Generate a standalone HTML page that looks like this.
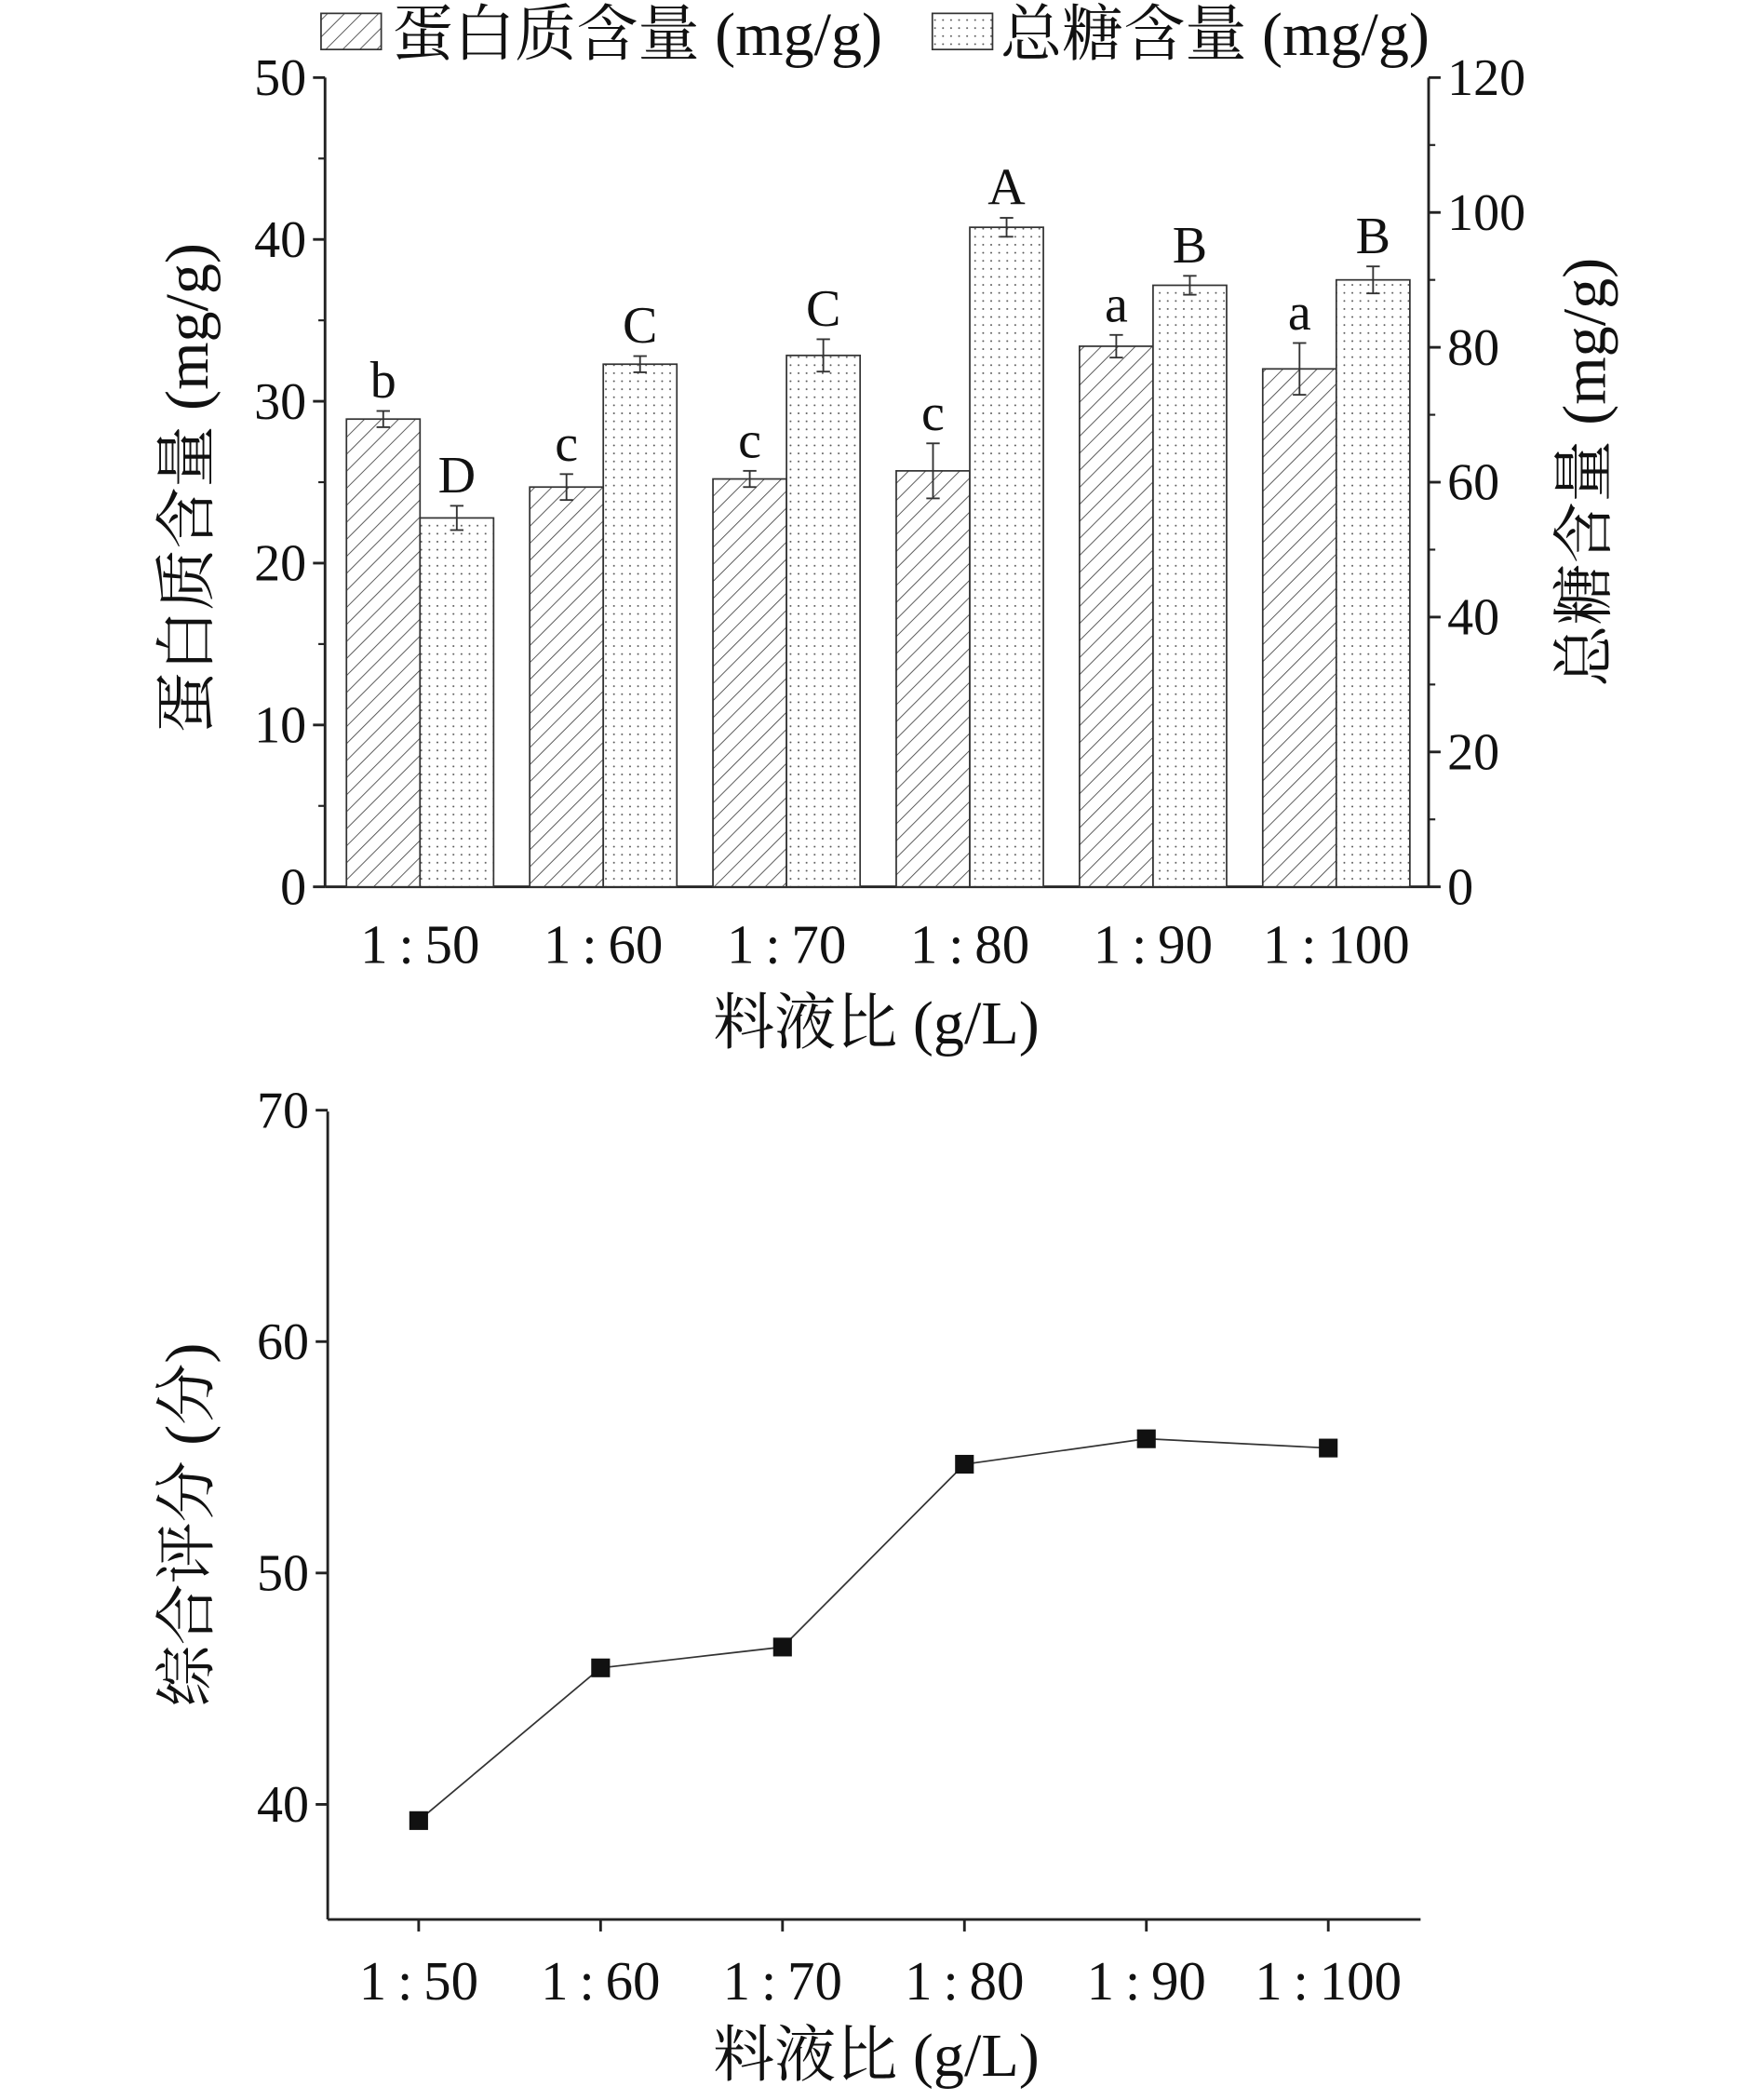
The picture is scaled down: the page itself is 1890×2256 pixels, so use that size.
<!DOCTYPE html>
<html><head><meta charset="utf-8"><style>
html,body{margin:0;padding:0;background:#fff;}
svg{display:block;}
text{font-family:"Liberation Serif","Noto Serif CJK SC","Noto Sans CJK SC",serif;fill:#111;}
</style></head><body>
<svg id="chart" width="1890" height="2256" viewBox="0 0 1315 1570" preserveAspectRatio="none" xmlns="http://www.w3.org/2000/svg">
<defs>
<pattern id="hatch" patternUnits="userSpaceOnUse" width="9" height="9" patternTransform="rotate(45)">
<rect width="9" height="9" fill="#fff"/><line x1="0" y1="0" x2="0" y2="9" stroke="#444" stroke-width="1.2"/></pattern>
<pattern id="dots" patternUnits="userSpaceOnUse" width="6" height="6">
<rect width="6" height="6" fill="#fff"/><circle cx="3" cy="3" r="0.7" fill="#555"/></pattern>
</defs>
<g id="topchart"></g>
<g id="bottomchart"></g>
</svg>
<script>
const categories=["1:50","1:60","1:70","1:80","1:90","1:100"];
const protein=[28.9,24.7,25.2,25.7,33.4,32.0];
const proteinErr=[0.5,0.8,0.5,1.7,0.7,1.6];
const proteinLetters=["b","c","c","c","a","a"];
const sugar=[54.7,77.5,78.8,97.8,89.2,90.0];
const sugarErr=[1.8,1.2,2.4,1.4,1.4,2.0];
const sugarLetters=["D","C","C","A","B","B"];
const leftTicks=[0,10,20,30,40,50];
const rightTicks=[0,20,40,60,80,100,120];
const score=[39.3,45.9,46.8,54.7,55.8,55.4];
const scoreTicks=[40,50,60,70];

const NS="http://www.w3.org/2000/svg";
function mk(p,tag,a,txt){const e=document.createElementNS(NS,tag);for(const k in a)e.setAttribute(k,a[k]);if(txt!==undefined)e.textContent=txt;p.appendChild(e);return e;}
const topG=document.getElementById('topchart'),botG=document.getElementById('bottomchart');
const X0=243,X1=1068,Y0=663,Y1=58;
const yL=v=>Y0-(v/50)*(Y0-Y1);
const yR=v=>Y0-(v/120)*(Y0-Y1);
const gx=i=>259+i*137;
const BW=55;
let e;
e=mk(topG,'line',{x1:X0,y1:Y0,x2:X1,y2:Y0,stroke:'#222','stroke-width':2});

e=mk(topG,'line',{x1:X0,y1:Y1,x2:X0,y2:Y0,stroke:'#222','stroke-width':2});

e=mk(topG,'line',{x1:X1,y1:Y1,x2:X1,y2:Y0,stroke:'#222','stroke-width':2});

leftTicks.forEach(v=>{mk(topG,'line',{x1:X0-9,y1:yL(v),x2:X0,y2:yL(v),stroke:'#222','stroke-width':2});
 if(v<50)mk(topG,'line',{x1:X0-5,y1:yL(v+5),x2:X0,y2:yL(v+5),stroke:'#222','stroke-width':1.5});
 e=mk(topG,'text',{x:X0-14,y:yL(v)+13,'font-size':39,'text-anchor':'end'},String(v));
 });
rightTicks.forEach(v=>{mk(topG,'line',{x1:X1,y1:yR(v),x2:X1+9,y2:yR(v),stroke:'#222','stroke-width':2});
 if(v<120)mk(topG,'line',{x1:X1,y1:yR(v+10),x2:X1+5,y2:yR(v+10),stroke:'#222','stroke-width':1.5});
 e=mk(topG,'text',{x:X1+14,y:yR(v)+13,'font-size':39},String(v));
 });
categories.forEach((c,i)=>{
 const x=gx(i);
 e=mk(topG,'rect',{x:x,y:yL(protein[i]),width:BW,height:Y0-yL(protein[i]),fill:'url(#hatch)',stroke:'#333','stroke-width':1.2});
 
 e=mk(topG,'rect',{x:x+BW,y:yR(sugar[i]),width:BW,height:Y0-yR(sugar[i]),fill:'url(#dots)',stroke:'#333','stroke-width':1.2});
 
 const err=(cx,yt,yb)=>{mk(topG,'line',{x1:cx,y1:yt,x2:cx,y2:yb,stroke:'#333','stroke-width':1.3});
  mk(topG,'line',{x1:cx-5,y1:yt,x2:cx+5,y2:yt,stroke:'#333','stroke-width':1.3});
  mk(topG,'line',{x1:cx-5,y1:yb,x2:cx+5,y2:yb,stroke:'#333','stroke-width':1.3});};
 err(x+BW/2,yL(protein[i]+proteinErr[i]),yL(protein[i]-proteinErr[i]));
 err(x+BW*1.5,yR(sugar[i]+sugarErr[i]),yR(sugar[i]-sugarErr[i]));
 e=mk(topG,'text',{x:x+BW/2,y:yL(protein[i]+proteinErr[i])-10,'font-size':39,'text-anchor':'middle'},proteinLetters[i]);
 
 e=mk(topG,'text',{x:x+BW*1.5,y:yR(sugar[i]+sugarErr[i])-10,'font-size':39,'text-anchor':'middle'},sugarLetters[i]);
 
 e=mk(topG,'text',{x:x+BW,y:720,'font-size':41,'text-anchor':'middle'},c.replace(':','\u2009:\u2009'));
 
});
e=mk(topG,'text',{x:655,y:780,'font-size':46,'text-anchor':'middle'},'料液比 (g/L)');

e=mk(topG,'text',{x:0,y:0,'font-size':46,'text-anchor':'middle',transform:'translate(155,365) rotate(-90)'},'蛋白质含量 (mg/g)');

e=mk(topG,'text',{x:0,y:0,'font-size':46,'text-anchor':'middle',transform:'translate(1200,353) rotate(-90)'},'总糖含量 (mg/g)');

e=mk(topG,'rect',{x:240,y:10,width:45,height:27,fill:'url(#hatch)',stroke:'#333','stroke-width':1.2});

e=mk(topG,'text',{x:293,y:41,'font-size':46},'蛋白质含量 (mg/g)');

e=mk(topG,'rect',{x:697,y:10,width:45,height:27,fill:'url(#dots)',stroke:'#333','stroke-width':1.2});

e=mk(topG,'text',{x:748,y:41,'font-size':46},'总糖含量 (mg/g)');


const BX0=245,BX1=1062,BY0=1435,BYT=831;
const yS=v=>1349-(v-40)*17.3;
const px=i=>313+i*136;
e=mk(botG,'line',{x1:BX0,y1:BY0,x2:BX1,y2:BY0,stroke:'#222','stroke-width':2});

e=mk(botG,'line',{x1:BX0,y1:BYT,x2:BX0,y2:BY0,stroke:'#222','stroke-width':2});

scoreTicks.forEach(v=>{mk(botG,'line',{x1:BX0-9,y1:yS(v),x2:BX0,y2:yS(v),stroke:'#222','stroke-width':2});
 e=mk(botG,'text',{x:BX0-14,y:yS(v)+13,'font-size':39,'text-anchor':'end'},String(v));
 });
categories.forEach((c,i)=>{mk(botG,'line',{x1:px(i),y1:BY0,x2:px(i),y2:BY0+9,stroke:'#222','stroke-width':2});
 e=mk(botG,'text',{x:px(i),y:BY0+60,'font-size':41,'text-anchor':'middle'},c.replace(':','\u2009:\u2009'));
 });
e=mk(botG,'polyline',{points:score.map((v,i)=>px(i)+','+yS(v)).join(' '),fill:'none',stroke:'#333','stroke-width':1.2});

score.forEach((v,i)=>{e=mk(botG,'rect',{x:px(i)-7,y:yS(v)-7,width:14,height:14,fill:'#111'});
 });
e=mk(botG,'text',{x:655,y:1552,'font-size':46,'text-anchor':'middle'},'料液比 (g/L)');

e=mk(botG,'text',{x:0,y:0,'font-size':46,'text-anchor':'middle',transform:'translate(155,1140) rotate(-90)'},'综合评分 (分)');

</script>
</body></html>
